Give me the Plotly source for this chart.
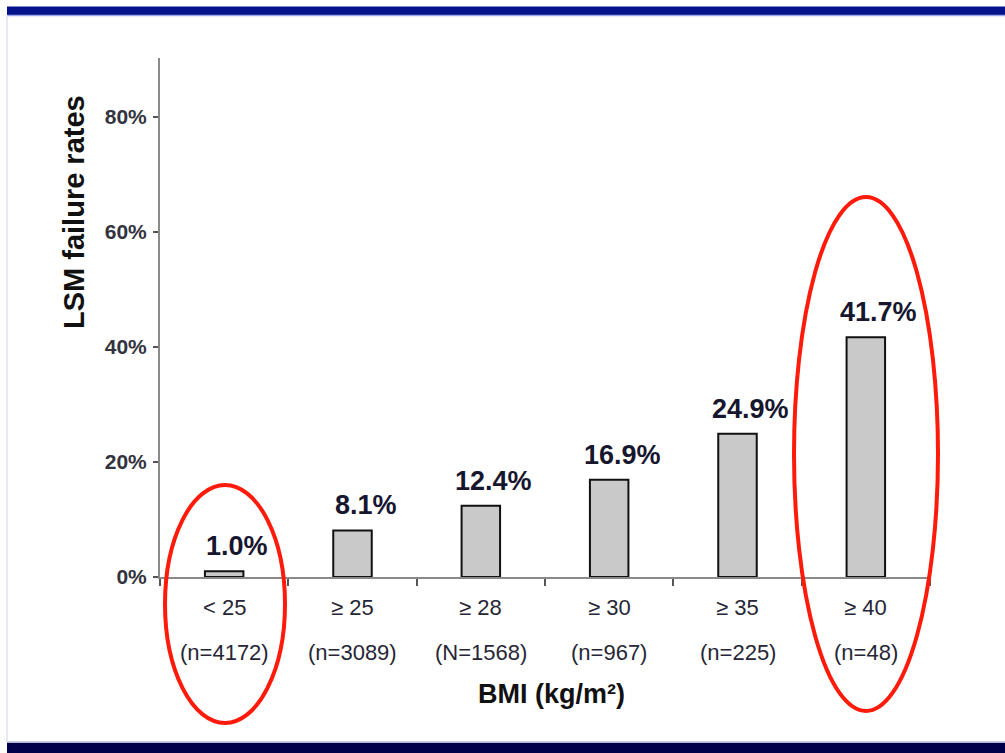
import plotly.graph_objects as go

# ---- data ----
categories = ["< 25", "≥ 25", "≥ 28", "≥ 30", "≥ 35", "≥ 40"]
counts = ["(n=4172)", "(n=3089)", "(N=1568)", "(n=967)", "(n=225)", "(n=48)"]
failure_rates = [1.0, 8.1, 12.4, 16.9, 24.9, 41.7]
value_labels = ["1.0%", "8.1%", "12.4%", "16.9%", "24.9%", "41.7%"]
y_ticks = [0, 20, 40, 60, 80]
y_ticklabels = ["0%", "20%", "40%", "60%", "80%"]
highlight = [0, 5]

# ---- layout geometry (pixels) ----
W, H = 1005, 753
L, R, T, B = 160, 930, 58, 577
PW, PH = R - L, B - T


def px(x):
    return (x - L) / PW


def py(y):
    return (B - y) / PH


FONT = "Liberation Sans, Arial, sans-serif"

fig = go.Figure()
fig.add_trace(go.Bar(
    x=categories, y=failure_rates, width=0.3,
    marker=dict(color="#c9c9c9", line=dict(color="#111111", width=2)),
    hoverinfo="skip", showlegend=False,
))

annotations = []
for c, v, lab in zip(categories, failure_rates, value_labels):
    annotations.append(dict(x=c, y=v, xref="x", yref="y", text="<b>%s</b>" % lab, showarrow=False,
                            xanchor="center", yanchor="middle", xshift=13, yshift=25,
                            font=dict(family=FONT, size=27, color="#16162e")))
for c, n in zip(categories, counts):
    annotations.append(dict(x=c, y=0, xref="x", yref="y", text=c, showarrow=False,
                            xanchor="center", yanchor="middle", yshift=-30,
                            font=dict(family=FONT, size=22, color="#262636")))
    annotations.append(dict(x=c, y=0, xref="x", yref="y", text=n, showarrow=False,
                            xanchor="center", yanchor="middle", yshift=-75,
                            font=dict(family=FONT, size=22, color="#262636")))
annotations.append(dict(x=px(551), y=py(694), xref="paper", yref="paper",
                        xanchor="center", yanchor="middle",
                        text="<b>BMI (kg/m²)</b>", showarrow=False,
                        font=dict(family=FONT, size=27, color="#111111")))
annotations.append(dict(x=px(74), y=py(212), xref="paper", yref="paper",
                        xanchor="center", yanchor="middle",
                        text="<b>LSM failure rates</b>", showarrow=False, textangle=-90,
                        font=dict(family=FONT, size=29, color="#111111")))

shapes = [
    # top band
    dict(type="rect", xref="paper", yref="paper", x0=px(7), x1=px(1010), y0=py(15), y1=py(6.5),
         fillcolor="#04128c", line=dict(width=0), layer="above"),
    dict(type="line", xref="paper", yref="paper", x0=px(7), x1=px(1010), y0=py(15.5), y1=py(15.5),
         line=dict(color="#9aa8ea", width=1.5)),
    # bottom band
    dict(type="rect", xref="paper", yref="paper", x0=px(7), x1=px(1010), y0=py(760), y1=py(742.5),
         fillcolor="#00004a", line=dict(width=0)),
    dict(type="line", xref="paper", yref="paper", x0=px(7), x1=px(1010), y0=py(742), y1=py(742),
         line=dict(color="#b8c4e4", width=1.5)),
    # left thin line
    dict(type="line", xref="paper", yref="paper", x0=px(7), x1=px(7), y0=py(15), y1=py(742),
         line=dict(color="#d0d4ea", width=1)),
]
ellipses = {0: (165, 285, 485, 723), 5: (794, 938, 197, 711)}
for i in highlight:
    x0, x1, y0, y1 = ellipses[i]
    shapes.append(dict(type="circle", xref="paper", yref="paper",
                       x0=px(x0), x1=px(x1), y0=py(y1), y1=py(y0),
                       line=dict(color="#ff1a0a", width=4), layer="above"))

fig.update_layout(
    width=W, height=H,
    margin=dict(l=L, r=W - R, t=T, b=H - B, pad=0),
    paper_bgcolor="white", plot_bgcolor="white",
    annotations=annotations, shapes=shapes,
    xaxis=dict(showgrid=False, zeroline=False, showline=True, linecolor="#8a8a8a", linewidth=2,
               ticks="outside", tickson="boundaries", ticklen=7, tickcolor="#555555", tickwidth=1.5,
               showticklabels=False, range=[-0.5, 5.5], fixedrange=True),
    yaxis=dict(range=[0, PH / 5.75], showgrid=False, zeroline=False, showline=True,
               linecolor="#8a8a8a", linewidth=2, ticks="outside", ticklen=5,
               tickcolor="#555555", tickwidth=1.5, fixedrange=True,
               tickvals=y_ticks, ticktext=["<b>%s</b>" % t for t in y_ticklabels],
               tickfont=dict(family=FONT, size=21, color="#333340"), ticklabelstandoff=2),
    font=dict(family=FONT),
)

fig.write_html("out.html", config={"displayModeBar": False},
               post_script="document.body.style.margin='0';document.body.style.overflow='hidden';")
